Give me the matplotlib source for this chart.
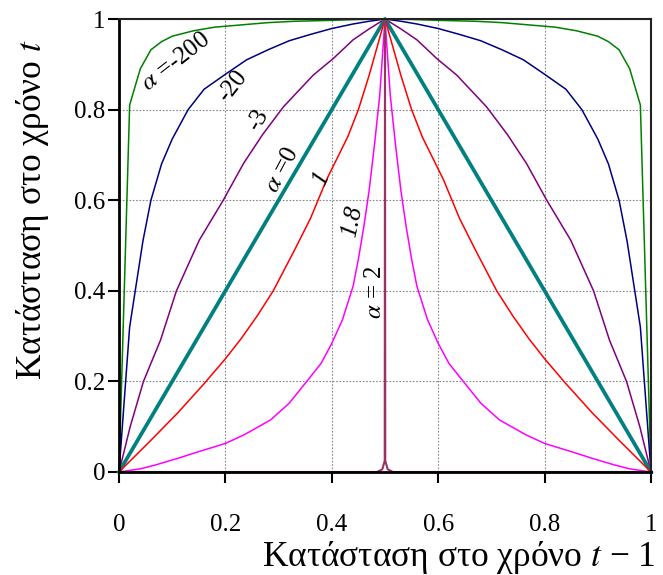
import matplotlib
matplotlib.use("Agg")
import matplotlib.pyplot as plt

plt.rcParams['font.family'] = ['Liberation Serif', 'DejaVu Serif']
plt.rcParams['mathtext.fontset'] = 'stix'

# alpha = -200
x_m200 = [0, 0.02, 0.04, 0.06, 0.08, 0.10, 0.14, 0.18, 0.23, 0.28, 0.33, 0.40, 0.45, 0.5,
          0.55, 0.60, 0.67, 0.72, 0.77, 0.82, 0.86, 0.90, 0.92, 0.94, 0.96, 0.98, 1]
y_m200 = [0, 0.81, 0.89, 0.932, 0.95, 0.962, 0.974, 0.982, 0.987, 0.992, 0.995, 0.997, 0.999, 1,
          0.999, 0.997, 0.995, 0.992, 0.987, 0.982, 0.974, 0.962, 0.95, 0.932, 0.89, 0.81, 0]
# alpha = -20
x_m20 = [0, 0.02, 0.045, 0.06, 0.08, 0.10, 0.13, 0.16, 0.20, 0.24, 0.28, 0.32, 0.36, 0.40, 0.44, 0.47, 0.5,
         0.53, 0.56, 0.60, 0.64, 0.68, 0.72, 0.76, 0.80, 0.84, 0.87, 0.90, 0.92, 0.94, 0.955, 0.98, 1]
y_m20 = [0, 0.32, 0.51, 0.60, 0.68, 0.735, 0.80, 0.845, 0.878, 0.91, 0.932, 0.952, 0.966, 0.979, 0.989, 0.995, 1,
         0.995, 0.989, 0.979, 0.966, 0.952, 0.932, 0.91, 0.878, 0.845, 0.80, 0.735, 0.68, 0.60, 0.51, 0.32, 0]
# alpha = -3
x_m3 = [0, 0.021, 0.046, 0.078, 0.108, 0.151, 0.196, 0.234, 0.27, 0.309, 0.365, 0.403, 0.44, 0.47, 0.5,
        0.53, 0.56, 0.597, 0.635, 0.691, 0.73, 0.766, 0.804, 0.849, 0.892, 0.922, 0.954, 0.979, 1]
y_m3 = [0, 0.10, 0.20, 0.291, 0.40, 0.512, 0.60, 0.681, 0.745, 0.806, 0.876, 0.913, 0.954, 0.978, 1,
        0.978, 0.954, 0.913, 0.876, 0.806, 0.745, 0.681, 0.60, 0.512, 0.40, 0.291, 0.20, 0.10, 0]
# alpha = 0
x_0 = [0, 0.5, 1]
y_0 = [0, 1, 0]
# alpha = 1
x_1 = [0, 0.06, 0.11, 0.16, 0.20, 0.23, 0.26, 0.29, 0.33, 0.36, 0.39, 0.43, 0.45, 0.47, 0.5,
       0.53, 0.55, 0.57, 0.61, 0.64, 0.67, 0.71, 0.74, 0.77, 0.80, 0.84, 0.89, 0.94, 1]
y_1 = [0, 0.07, 0.13, 0.195, 0.25, 0.295, 0.345, 0.40, 0.49, 0.56, 0.645, 0.74, 0.80, 0.875, 1,
       0.875, 0.80, 0.74, 0.645, 0.56, 0.49, 0.40, 0.345, 0.295, 0.25, 0.195, 0.13, 0.07, 0]
# alpha = 1.8
x_18 = [0, 0.04, 0.07, 0.11, 0.15, 0.20, 0.235, 0.285, 0.32, 0.355, 0.38, 0.40, 0.42, 0.44, 0.45, 0.46,
        0.47, 0.48, 0.49, 0.5,
        0.51, 0.52, 0.53, 0.54, 0.55, 0.56, 0.58, 0.60, 0.62, 0.645, 0.68, 0.715, 0.765, 0.80, 0.85,
        0.89, 0.93, 0.96, 1]
y_18 = [0, 0.007, 0.016, 0.03, 0.045, 0.063, 0.082, 0.115, 0.152, 0.203, 0.24, 0.284, 0.336, 0.41, 0.47,
        0.54, 0.62, 0.72, 0.83, 1,
        0.83, 0.72, 0.62, 0.54, 0.47, 0.41, 0.336, 0.284, 0.24, 0.203, 0.152, 0.115, 0.082, 0.063, 0.045,
        0.03, 0.016, 0.007, 0]
# alpha = 2
x_2 = [0, 0.485, 0.495, 0.4995, 0.5, 0.5005, 0.505, 0.515, 1]
y_2 = [0, 0, 0.006, 0.025, 1, 0.025, 0.006, 0, 0]

series = [
    (x_m200, y_m200, '#008000', 1.1),
    (x_m20, y_m20, '#000080', 1.1),
    (x_m3, y_m3, '#800080', 1.1),
    (x_0, y_0, '#008080', 2.7),
    (x_1, y_1, '#FF0000', 1.1),
    (x_18, y_18, '#FF00FF', 1.1),
    (x_2, y_2, '#993366', 1.5),
]

labels = [
    ('$\\alpha$ =-200', 0.107, 0.905, 38, 'normal'),
    ('-20', 0.214, 0.852, 52, 'normal'),
    ('-3', 0.262, 0.777, 60, 'normal'),
    ('$\\alpha$ =0', 0.306, 0.667, 62, 'normal'),
    ('1', 0.380, 0.647, 65, 'italic'),
    ('1.8', 0.438, 0.552, 78, 'italic'),
    ('$\\alpha$ = 2', 0.481, 0.397, 90, 'normal'),
]

fig = plt.figure(figsize=(6.63, 5.75), dpi=100)
ax = fig.add_axes([119/663, 1-472/575, 532/663, 453/575])

for xs, ys, c, lw in series:
    ax.plot(xs, ys, color=c, lw=lw, clip_on=False, zorder=2)

for txt, x, y, rot, st in labels:
    ax.text(x, y, txt, rotation=rot, ha='center', va='center', fontsize=18,
            style=st, rotation_mode='anchor', zorder=4)

ax.set_xlim(0, 1)
ax.set_ylim(0, 1)
ticks = [0, 0.2, 0.4, 0.6, 0.8, 1]
ticklabels = ['0', '0.2', '0.4', '0.6', '0.8', '1']
ax.set_xticks(ticks)
ax.set_xticklabels(ticklabels)
ax.set_yticks(ticks)
ax.set_yticklabels(ticklabels)
ax.grid(True, color='#888888', linestyle=(0, (1.5, 1.5)), linewidth=0.8, zorder=1)
ax.set_axisbelow(True)
ax.tick_params(direction='out', length=8, width=1.5, labelsize=18)
ax.tick_params(axis='x', pad=22)
ax.tick_params(axis='y', pad=2)
for s in ['left', 'bottom']:
    ax.spines[s].set_linewidth(2)
    ax.spines[s].set_color('black')
for s in ['top', 'right']:
    ax.spines[s].set_linewidth(1.5)
    ax.spines[s].set_color('#222222')

fig.text(656/663, 1-557/575, 'Κατάσταση στο χρόνο $t$ − 1', ha='right', va='center', fontsize=25.5)
fig.text(33/663, 1-210/575, 'Κατάσταση στο χρόνο $t$', ha='center', va='center', fontsize=25.5, rotation=90)

fig.savefig('out.png', dpi=100)
